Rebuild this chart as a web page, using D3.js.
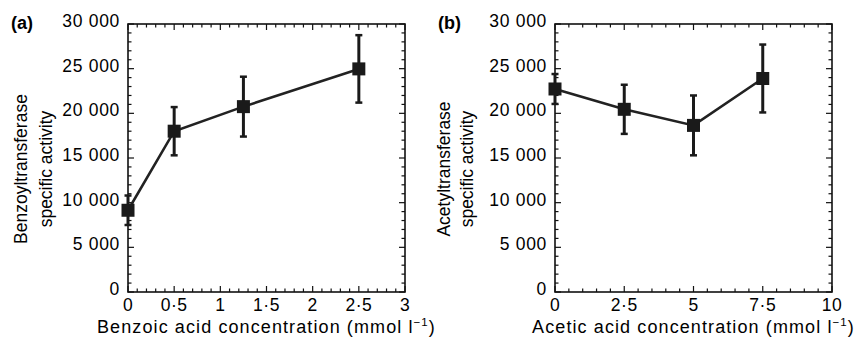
<!DOCTYPE html>
<html>
<head>
<style>
  body { margin: 0; background: #fff; }
  svg text { font-family: "Liberation Sans", Arial, Helvetica, sans-serif; fill: #000; }
</style>
</head>
<body>
<svg id="chart" width="855" height="339"></svg>
<script src="https://cdn.jsdelivr.net/npm/d3@7"></script>
<script>
// panel (a): benzoic acid
const benzoicConc = [0, 0.5, 1.25, 2.5];
const benzoylActivity = [9150, 18000, 20750, 24975];
const benzoylErr = [1650, 2700, 3350, 3775];
const benzoicTicks = [0, 0.5, 1, 1.5, 2, 2.5, 3];

// panel (b): acetic acid
const aceticConc = [0, 2.5, 5, 7.5];
const acetylActivity = [22725, 20450, 18650, 23900];
const acetylErr = [1675, 2750, 3350, 3800];
const aceticTicks = [0, 2.5, 5, 7.5, 10];

const activityTicks = [0, 5000, 10000, 15000, 20000, 25000, 30000];

const svg = d3.select("#chart");

// "0·5" style decimals and "30 000" thousands
const fmtX = d => String(d).replace(".", "\u00B7");
const fmtY = d => d3.format(",")(d).replace(/,/g, " ");

function drawPanel(opt) {
  const g = svg.append("g");
  const x = d3.scaleLinear().domain([0, opt.xMax]).range([opt.left, opt.right]);
  const y = d3.scaleLinear().domain([0, 30000]).range([292, 24]);

  // minor ticks
  const xMinor = d3.range(0, opt.xMax + 1e-9, opt.xMinorStep);
  const yMinor = d3.range(0, 30001, 1000);

  const major = 6, minor = 3.5;
  const isMajorX = v => opt.xTicks.some(t => Math.abs(t - v) < 1e-6);
  const isMajorY = v => v % 5000 === 0;

  // bottom + top ticks (inward)
  g.selectAll(".xt").data(xMinor).join("line")
    .attr("x1", d => x(d)).attr("x2", d => x(d))
    .attr("y1", y(0)).attr("y2", d => y(0) - (isMajorX(d) ? major : minor))
    .attr("stroke", "#111").attr("stroke-width", 1.2);
  g.selectAll(".xtt").data(xMinor).join("line")
    .attr("x1", d => x(d)).attr("x2", d => x(d))
    .attr("y1", y(30000)).attr("y2", d => y(30000) + (isMajorX(d) ? major : minor))
    .attr("stroke", "#111").attr("stroke-width", 1.2);
  // left + right ticks
  g.selectAll(".yt").data(yMinor).join("line")
    .attr("y1", d => y(d)).attr("y2", d => y(d))
    .attr("x1", x(0)).attr("x2", d => x(0) + (isMajorY(d) ? major : minor))
    .attr("stroke", "#111").attr("stroke-width", 1.2);
  g.selectAll(".ytr").data(yMinor).join("line")
    .attr("y1", d => y(d)).attr("y2", d => y(d))
    .attr("x1", x(opt.xMax)).attr("x2", d => x(opt.xMax) - (isMajorY(d) ? major : minor))
    .attr("stroke", "#111").attr("stroke-width", 1.2);

  // frame
  g.append("rect")
    .attr("x", x(0)).attr("y", y(30000))
    .attr("width", x(opt.xMax) - x(0)).attr("height", y(0) - y(30000))
    .attr("fill", "none").attr("stroke", "#111").attr("stroke-width", 1.6);

  // tick labels
  g.selectAll(".xl").data(opt.xTicks).join("text")
    .attr("x", d => x(d)).attr("y", 311)
    .attr("text-anchor", "middle").attr("font-size", 17.5)
    .attr("letter-spacing", 0.5)
    .text(fmtX);
  g.selectAll(".yl").data(activityTicks).join("text")
    .attr("x", x(0) - 8).attr("y", d => y(d) + 3)
    .attr("text-anchor", "end").attr("font-size", 17.5)
    .attr("letter-spacing", 0.7)
    .text(fmtY);

  // axis titles
  const xt = g.append("text")
    .attr("x", (x(0) + x(opt.xMax)) / 2).attr("y", 333)
    .attr("text-anchor", "middle").attr("font-size", 18)
    .attr("letter-spacing", 1.1);
  xt.append("tspan").text(opt.xTitle + " (mmol l");
  xt.append("tspan").attr("font-size", 11.5).attr("dy", -7).text("\u22121");
  xt.append("tspan").attr("dy", 7).text(")");

  opt.yTitle.forEach((t, i) => {
    const cx = x(0) - opt.yTitleOff[i];
    g.append("text")
      .attr("transform", `translate(${cx},169) rotate(-90)`)
      .attr("text-anchor", "middle").attr("dominant-baseline", "central")
      .attr("font-size", 17.5)
      .text(t);
  });

  g.append("text")
    .attr("x", opt.labelX).attr("y", 29)
    .attr("font-size", 18).attr("font-weight", "bold")
    .text(opt.label);

  // series
  const pts = opt.xs.map((v, i) => ({ x: v, y: opt.ys[i], e: opt.es[i] }));

  g.append("path")
    .datum(pts)
    .attr("fill", "none").attr("stroke", "#222").attr("stroke-width", 2.6)
    .attr("d", d3.line().x(d => x(d.x)).y(d => y(d.y)));

  const eb = g.selectAll(".eb").data(pts).join("g");
  eb.append("line")
    .attr("x1", d => x(d.x)).attr("x2", d => x(d.x))
    .attr("y1", d => y(d.y - d.e)).attr("y2", d => y(d.y + d.e))
    .attr("stroke", "#1a1a1a").attr("stroke-width", 3);
  [-1, 1].forEach(s => {
    eb.append("line")
      .attr("x1", d => x(d.x) - 3.5).attr("x2", d => x(d.x) + 3.5)
      .attr("y1", d => y(d.y + s * d.e)).attr("y2", d => y(d.y + s * d.e))
      .attr("stroke", "#1a1a1a").attr("stroke-width", 2.5);
  });
  eb.append("rect")
    .attr("x", d => x(d.x) - 6.5).attr("y", d => y(d.y) - 6.5)
    .attr("width", 13).attr("height", 13)
    .attr("fill", "#1a1a1a");
}

drawPanel({
  left: 128, right: 405, xMax: 3, xMinorStep: 0.1, xTicks: benzoicTicks,
  xs: benzoicConc, ys: benzoylActivity, es: benzoylErr,
  xTitle: "Benzoic acid concentration",
  yTitle: ["Benzoyltransferase", "specific activity"], yTitleOff: [107, 82],
  label: "(a)", labelX: 11
});

drawPanel({
  left: 555, right: 832, xMax: 10, xMinorStep: 0.5, xTicks: aceticTicks,
  xs: aceticConc, ys: acetylActivity, es: acetylErr,
  xTitle: "Acetic acid concentration",
  yTitle: ["Acetyltransferase", "specific activity"], yTitleOff: [111, 88],
  label: "(b)", labelX: 438
});
</script>
</body>
</html>
